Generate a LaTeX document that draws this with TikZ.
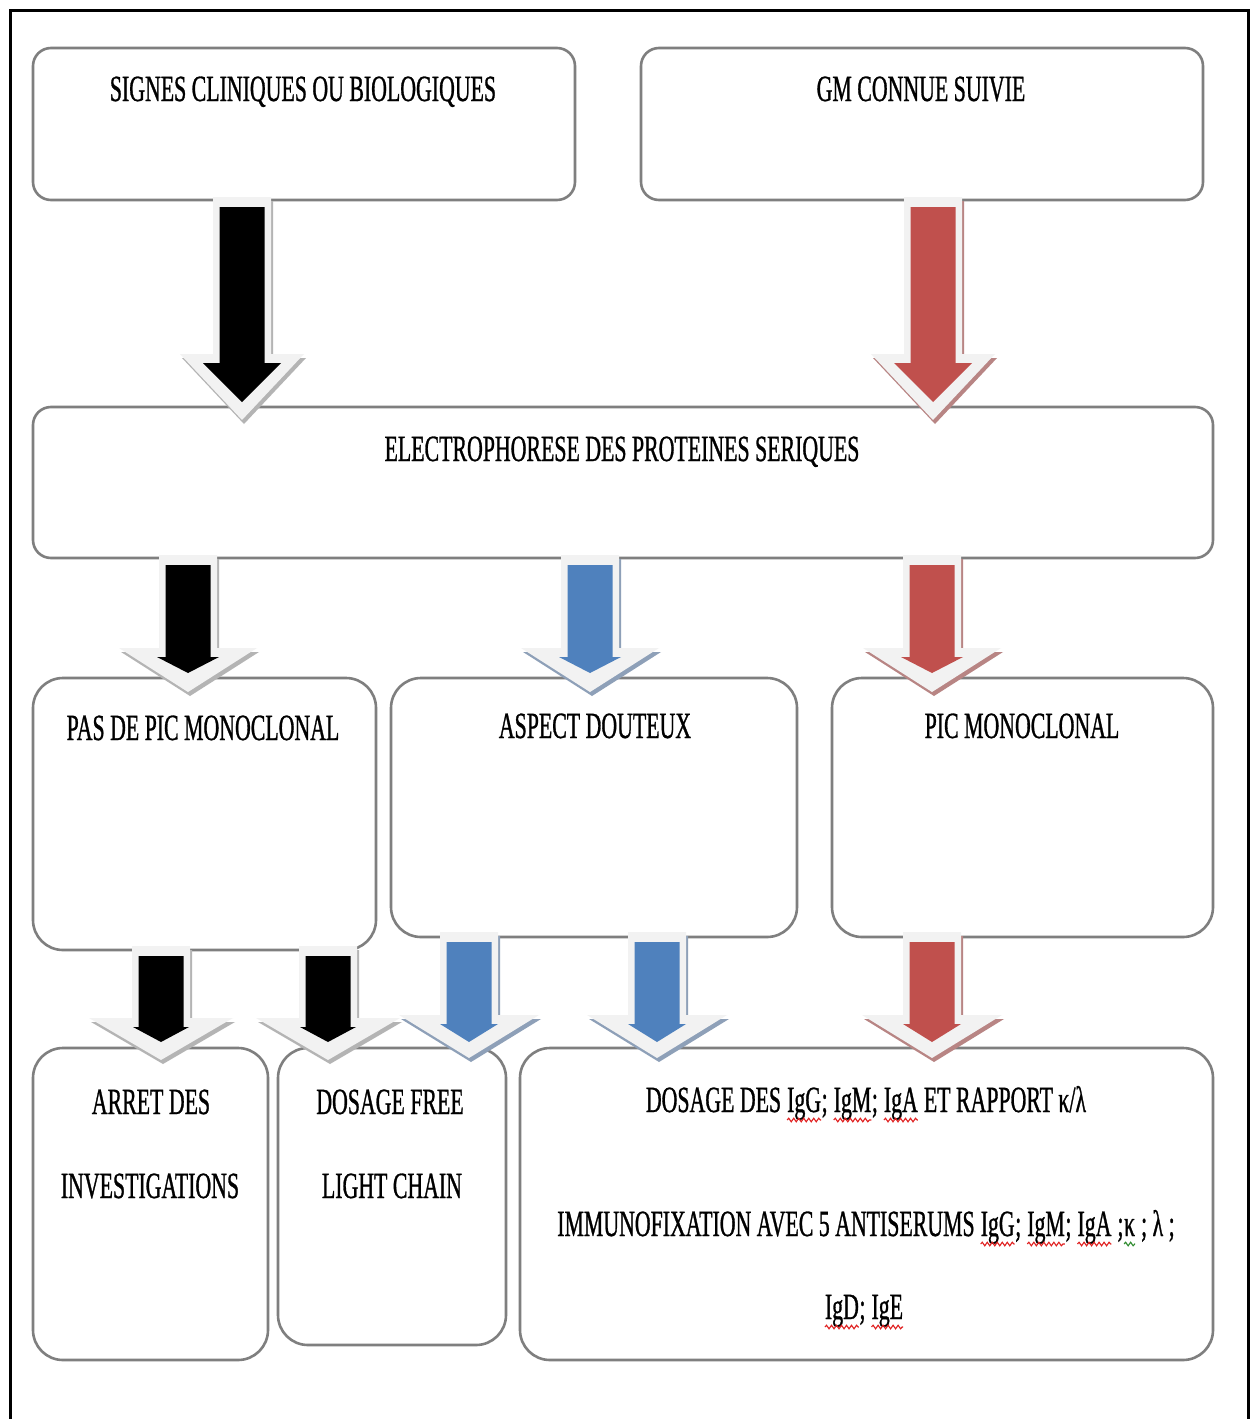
\documentclass[tikz,border=0pt]{standalone}
\usepackage{fontspec}
\setmainfont[FakeStretch=0.59,FakeBold=0.8]{Liberation Serif}
\usetikzlibrary{decorations.pathmorphing}
\definecolor{ored}{HTML}{C0504D}
\definecolor{oblue}{HTML}{4F81BD}
\definecolor{olight}{HTML}{F2F2F2}
\definecolor{oborder}{HTML}{7F7F7F}
\definecolor{shblack}{HTML}{B4B4B4}
\definecolor{shblue}{HTML}{8EA0B8}
\definecolor{shred}{HTML}{B88584}
\definecolor{wvred}{HTML}{E02020}
\definecolor{wvgreen}{HTML}{2E8B2E}
\newcommand\wv[2]{\tikz[baseline=(w.base),x=1pt,y=1pt]{\node[inner sep=0pt,outer sep=0pt,anchor=base] (w) {#2};
  \draw[#1, line width=1.1pt, decorate, decoration={snake, amplitude=1.8pt, segment length=5pt}] ([yshift=-8pt]w.base west) -- ([yshift=-8pt]w.base east);}}
% block arrow: cx, top, headbase, tip, headhalf, innerheadhalf, innertip, fill, shadow
\newcommand\blockarrow[9]{%
  \fill[#9, shift={(2,4)}] ({#1-29},#2) -- ({#1+29},#2) -- ({#1+29},#3) -- ({#1+#5},#3) -- (#1,#4) -- ({#1-#5},#3) -- ({#1-29},#3) -- cycle;
  \fill[olight] ({#1-29},#2) -- ({#1+29},#2) -- ({#1+29},#3) -- ({#1+#5},#3) -- (#1,#4) -- ({#1-#5},#3) -- ({#1-29},#3) -- cycle;
  \fill[#8] ({#1-22.5},{#2+10}) -- ({#1+22.5},{#2+10}) -- ({#1+22.5},{#3+9}) -- ({#1+#6},{#3+9}) -- (#1,#7) -- ({#1-#6},{#3+9}) -- ({#1-22.5},{#3+9}) -- cycle;
}
\begin{document}
\begin{tikzpicture}[x=1pt,y=-1pt,
  box/.style={draw=oborder, line width=2.6pt, rounded corners=#1, inner sep=0pt, fill=white},
  box/.default=30pt,
  txt/.style={font=\fontsize{37}{44}\selectfont, inner sep=0pt, anchor=base}]
\useasboundingbox (0,0) rectangle (1252,1419);
\fill[white] (0,0) rectangle (1252,1419);
\draw[line width=3pt] (10,1419) -- (10,10) -- (1248,10) -- (1248,1419);

% boxes
\node[box=18pt, minimum width=542pt, minimum height=152pt] (b1) at (304,124) {};
\node[box=18pt, minimum width=562pt, minimum height=152pt] (b2) at (922,124) {};
\node[box=18pt, minimum width=1180pt, minimum height=151pt] (b3) at (623,482.5) {};
\node[box, minimum width=343pt, minimum height=272pt] (b4) at (204.5,814) {};
\node[box, minimum width=406pt, minimum height=259pt] (b5) at (594,807.5) {};
\node[box, minimum width=381pt, minimum height=259pt] (b6) at (1022.5,807.5) {};
\node[box, minimum width=235pt, minimum height=312pt] (b7) at (150.5,1204) {};
\node[box, minimum width=228pt, minimum height=297pt] (b8) at (392,1196.5) {};
\node[box, minimum width=693pt, minimum height=312pt] (b9) at (866.5,1204) {};

% arrows row 1
\blockarrow{242}{197}{354}{420}{62}{39}{402}{black}{shblack}
\blockarrow{933}{197}{354}{420}{62}{39}{402}{ored}{shred}
% arrows row 2
\blockarrow{188}{555}{648}{692}{69}{31}{673}{black}{shblack}
\blockarrow{590}{555}{648}{692}{69}{31}{673}{oblue}{shblue}
\blockarrow{932}{555}{648}{692}{69}{31}{673}{ored}{shred}
% arrows row 3
\blockarrow{161}{946}{1018}{1060}{72}{28}{1042}{black}{shblack}
\blockarrow{328}{946}{1018}{1060}{72}{28}{1042}{black}{shblack}
\blockarrow{469}{932}{1015}{1058}{70}{29}{1042}{oblue}{shblue}
\blockarrow{657}{932}{1015}{1058}{70}{29}{1042}{oblue}{shblue}
\blockarrow{932}{932}{1015}{1058}{70}{29}{1042}{ored}{shred}

% texts
\node[txt] (t1) at (303,101) {SIGNES CLINIQUES OU BIOLOGIQUES};
\node[txt] (t2) at (921,101) {GM CONNUE SUIVIE};
\node[txt] (t3) at (622,461) {ELECTROPHORESE DES PROTEINES SERIQUES};
\node[txt] (t4) at (203,740) {PAS DE PIC MONOCLONAL};
\node[txt] (t5) at (595,738) {ASPECT DOUTEUX};
\node[txt] (t6) at (1022,738) {PIC MONOCLONAL};
\node[txt] (t7a) at (151,1114) {ARRET DES};
\node[txt] (t7b) at (150,1198) {INVESTIGATIONS};
\node[txt] (t8a) at (390,1114) {DOSAGE FREE};
\node[txt] (t8b) at (392,1198) {LIGHT CHAIN};
\node[txt] (t9a) at (866,1112) {DOSAGE DES \wv{wvred}{IgG}; \wv{wvred}{IgM}; \wv{wvred}{IgA} ET RAPPORT κ/λ};
\node[txt] (t9b) at (866,1236) {IMMUNOFIXATION AVEC 5 ANTISERUMS \wv{wvred}{IgG}; \wv{wvred}{IgM}; \wv{wvred}{IgA} ;\wv{wvgreen}{κ} ; λ ;};
\node[txt] (t9c) at (864,1319) {\wv{wvred}{IgD}; \wv{wvred}{IgE}};
\end{tikzpicture}
\end{document}
